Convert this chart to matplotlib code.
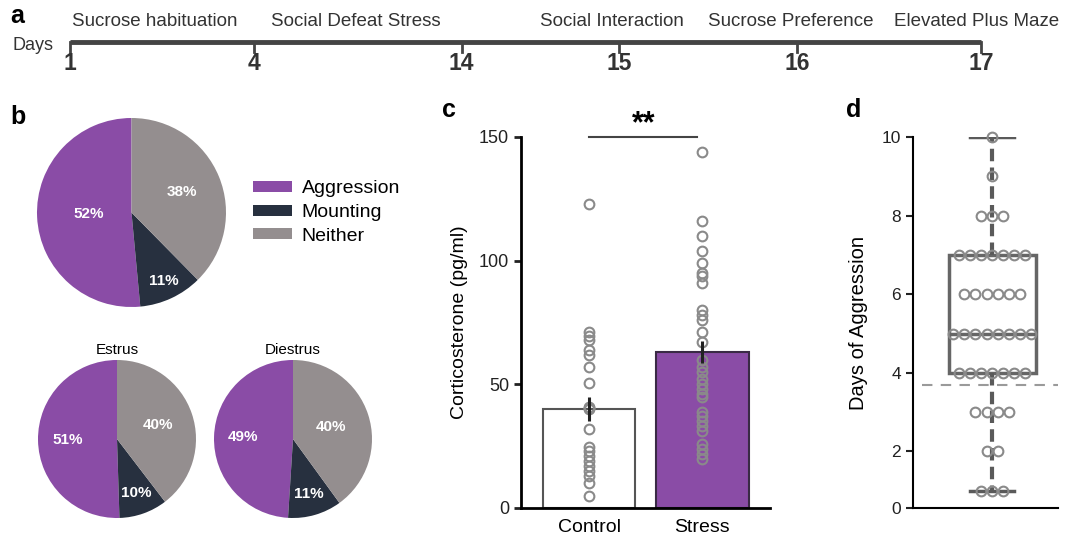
import matplotlib
matplotlib.use('Agg')
import matplotlib.pyplot as plt
import numpy as np

plt.rcParams['font.family'] = ['Liberation Sans', 'DejaVu Sans']

W, H = 1072, 534

# panel a: timeline
days = ['1', '4', '14', '15', '16', '17']
stages = ['Sucrose habituation', 'Social Defeat Stress', 'Social Interaction',
          'Sucrose Preference', 'Elevated Plus Maze']

# panel b: behaviour proportions (%)
behaviours = ['Aggression', 'Mounting', 'Neither']
all_pct = [52, 11, 38]
estrus_pct = [51, 10, 40]
diestrus_pct = [49, 11, 40]

# panel c: corticosterone
groups = ['Control', 'Stress']
group_means = [40, 63]
group_sems = [5, 4.5]
control_vals = [123, 71, 69.5, 68, 64, 62, 57, 50.5, 41, 40.5, 40, 32,
                24.5, 23, 21, 19, 17, 15, 13, 10, 5]
stress_vals = [144, 116, 110, 104, 99, 95, 94, 91, 80, 78, 76, 71, 67, 60,
               57, 55, 52, 50, 48, 46, 45, 39, 37, 35, 33, 31, 26, 24, 22, 20]

# panel d: days of aggression
agg_levels = [1, 2, 3, 4, 5, 6, 7, 8, 9, 10]
agg_counts = [3, 2, 4, 7, 8, 6, 7, 3, 1, 1]
agg_threshold = 3.7

purple = '#8a4ca6'
navy = '#27303f'
grey = '#948e8f'
pie_colors = [purple, navy, grey]
point_grey = '#8a8a8a'


def px_axes(fig, x0, y0, x1, y1):
    # axes from pixel box (top-left origin)
    return fig.add_axes([x0 / W, 1 - y1 / H, (x1 - x0) / W, (y1 - y0) / H])


fig = plt.figure(figsize=(W / 100, H / 100), dpi=100)

# ---------------- panel a ----------------
tick_pos = [0, 0.202, 0.430, 0.603, 0.798, 1.0]
stage_pos = [0.002, 0.221, 0.516, 0.700, 0.905]
ax_a = px_axes(fig, 70, 30, 981, 80)
ax_a.set_xlim(0, 1)
ax_a.set_ylim(0, 1)
ax_a.axis('off')
line_y = 0.76
ax_a.plot([0, 1], [line_y, line_y], color='#444444', lw=3.5, solid_capstyle='butt', clip_on=False)
for p, d in zip(tick_pos, days):
    ax_a.plot([p, p], [line_y, line_y - 0.2], color='#444444', lw=2, clip_on=False)
    ax_a.text(p, 0.32, d, ha='center', va='center', fontsize=16.5, fontweight='bold',
              color='#333333', family=['Liberation Sans Narrow', 'Liberation Sans'])
for p, s in zip(stage_pos, stages):
    ax_a.text(p, 1.16, s, ha='left', va='center', fontsize=13.5, color='#333333', clip_on=False)
fig.text(12 / W, 1 - 45 / H, 'Days', ha='left', va='center', fontsize=13, color='#333333')
fig.text(10 / W, 1 - 16 / H, 'a', ha='left', va='center', fontsize=18, fontweight='bold')


# ---------------- panel b ----------------
def draw_pie(ax, pct, dists, fs):
    wedges, _ = ax.pie(pct, colors=pie_colors, startangle=90, counterclock=True,
                       wedgeprops=dict(linewidth=0))
    for w, v, r in zip(wedges, pct, dists):
        ang = np.deg2rad((w.theta1 + w.theta2) / 2)
        ax.text(r * np.cos(ang), r * np.sin(ang), f'{v}%', ha='center', va='center',
                color='white', fontsize=fs, fontweight='bold')
    ax.set_xlim(-1, 1)
    ax.set_ylim(-1, 1)
    return wedges


ax_b = px_axes(fig, 37, 118, 226, 307)
wedges = draw_pie(ax_b, all_pct, [0.45, 0.8, 0.58], 11)
ax_b.legend(wedges, behaviours, loc='center left', bbox_to_anchor=(1.05, 0.5),
            frameon=False, fontsize=14, handlelength=2.0, handleheight=0.5,
            labelspacing=0.35, handletextpad=0.5)
fig.text(10 / W, 1 - 117 / H, 'b', ha='left', va='center', fontsize=18, fontweight='bold')

ax_e = px_axes(fig, 38, 360, 196, 518)
draw_pie(ax_e, estrus_pct, [0.63, 0.72, 0.55], 11)
ax_e.set_title('Estrus', fontsize=11, pad=4)

ax_di = px_axes(fig, 214, 360, 372, 518)
draw_pie(ax_di, diestrus_pct, [0.63, 0.72, 0.5], 11)
ax_di.set_title('Diestrus', fontsize=11, pad=4)

# ---------------- panel c ----------------
ax_c = px_axes(fig, 521, 137, 770, 508)
x = np.arange(len(groups))
ax_c.bar(x, group_means, width=0.82, color=['white', purple],
         edgecolor=['#555555', '#3a2a45'], linewidth=1.5, zorder=1)
ax_c.plot(np.zeros(len(control_vals)), control_vals, 'o', mfc='none', mec=point_grey,
          ms=7, mew=1.5, zorder=2)
ax_c.plot(np.ones(len(stress_vals)), stress_vals, 'o', mfc='none', mec=point_grey,
          ms=7, mew=1.5, zorder=2)
ax_c.errorbar(x, group_means, yerr=group_sems, fmt='none', ecolor='#222222',
              elinewidth=2.2, capsize=0, zorder=3)
ax_c.set_xlim(-0.602, 1.6)
ax_c.set_ylim(0, 150)
ax_c.set_yticks([0, 50, 100, 150])
ax_c.set_xticks(x)
ax_c.set_xticklabels(groups, fontsize=14)
ax_c.tick_params(axis='x', length=0, pad=8)
ax_c.tick_params(axis='y', labelsize=13, width=2, length=5, colors='#222222')
for s in ['top', 'right']:
    ax_c.spines[s].set_visible(False)
for s in ['left', 'bottom']:
    ax_c.spines[s].set_linewidth(2)
ax_c.set_ylabel('Corticosterone (pg/ml)', fontsize=14, labelpad=8)
ax_c.plot([0, 0.955], [150, 150], color='#444444', lw=1.5, clip_on=False)
ax_c.text(0.48, 149, '**', ha='center', va='bottom', fontsize=22, fontweight='bold',
          clip_on=False)
fig.text(442 / W, 1 - 110 / H, 'c', ha='left', va='center', fontsize=18, fontweight='bold')


# ---------------- panel d ----------------
def fwd(y):
    y = np.asarray(y, dtype=float)
    return np.where(y >= 1, y, 0.56 + 0.44 * y)


def inv(v):
    v = np.asarray(v, dtype=float)
    return np.where(v >= 1, v, (v - 0.56) / 0.44)


ax_d = px_axes(fig, 913, 137, 1058, 508)
ax_d.set_yscale('function', functions=(fwd, inv))
agg_vals = np.repeat(agg_levels, agg_counts)
cx = 0.545
bp = ax_d.boxplot([agg_vals], positions=[cx], widths=0.6, whis=(0, 100),
                  patch_artist=True, showfliers=False,
                  boxprops=dict(facecolor='none', edgecolor='#666666', linewidth=2.5),
                  medianprops=dict(color='#666666', linewidth=2.5),
                  whiskerprops=dict(color='#5a5a5a', linewidth=3, linestyle=(0, (3, 1.5))),
                  capprops=dict(color='#5a5a5a', linewidth=2.5))
for c in bp['caps']:
    xd = c.get_xdata()
    mid = xd.mean()
    c.set_xdata([mid - 0.15, mid + 0.15])
spacing = 0.076
for lvl, n in zip(agg_levels, agg_counts):
    xs = cx + (np.arange(n) - (n - 1) / 2) * spacing
    ax_d.plot(xs, np.full(n, lvl), 'o', mfc='none', mec=point_grey, ms=7, mew=1.5,
              zorder=3, clip_on=False)
ax_d.plot([0.06, 1.0], [agg_threshold, agg_threshold], color='#9a9a9a', lw=1.5,
          dashes=(5, 4), zorder=1)
ax_d.set_xlim(0, 1)
ax_d.set_ylim(0, 10)
ax_d.set_yticks([0, 2, 4, 6, 8, 10])
ax_d.set_yticklabels(['0', '2', '4', '6', '8', '10'])
ax_d.set_xticks([])
ax_d.tick_params(axis='y', labelsize=12.5, width=1.5, length=5, colors='#222222')
for s in ['top', 'right']:
    ax_d.spines[s].set_visible(False)
for s in ['left', 'bottom']:
    ax_d.spines[s].set_linewidth(1.5)
ax_d.set_ylabel('Days of Aggression', fontsize=14.5, labelpad=10)
fig.text(846 / W, 1 - 110 / H, 'd', ha='left', va='center', fontsize=18, fontweight='bold')

fig.savefig('out.png', dpi=100)
